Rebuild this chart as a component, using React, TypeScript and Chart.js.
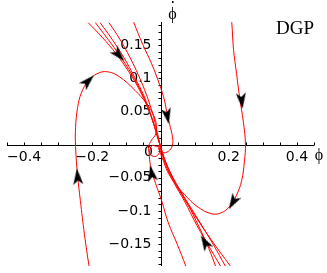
import React, { useEffect, useRef } from "react";
import { Chart, registerables } from "chart.js";

Chart.register(...registerables);

// Axis ranges and tick labels
const xRange = [-0.45, 0.45];
const yRange = [-0.183, 0.185];
const xTickLabels = [-0.4, -0.2, 0.2, 0.4];
const yTickLabels = [0.15, 0.1, 0.05, -0.05, -0.1, -0.15];
const xMinorStep = 0.05;
const yMinorStep = 0.01;
const xAxisTitle = "ϕ";
const yAxisTitle = "ϕ";
const modelLabel = "DGP";

// Trajectories (phi, phi-dot)
const curveA_x = [0.207, 0.209, 0.214, 0.223, 0.232, 0.243, 0.249, 0.246, 0.238, 0.223, 0.203, 0.177, 0.148, 0.107, 0.070, 0.041, 0.020, 0.009, 0.000, -0.003, 0.000];
const curveA_y = [0.190, 0.184, 0.144, 0.107, 0.071, 0.034, 0.001, -0.025, -0.054, -0.076, -0.093, -0.103, -0.104, -0.093, -0.075, -0.057, -0.040, -0.025, -0.013, -0.004, 0.000];

const curveB_x = [-0.205, -0.209, -0.223, -0.235, -0.243, -0.249, -0.249, -0.243, -0.232, -0.212, -0.186, -0.157, -0.122, -0.075, -0.041, -0.020, -0.012, -0.014, -0.026, -0.035, -0.032, -0.017, -0.003, 0.000];
const curveB_y = [-0.190, -0.184, -0.135, -0.084, -0.047, -0.003, 0.026, 0.056, 0.078, 0.096, 0.107, 0.110, 0.103, 0.082, 0.062, 0.044, 0.029, 0.016, 0.007, -0.003, -0.013, -0.018, -0.012, -0.003];

const curveC_x = [-0.082, -0.078, -0.052, -0.026, -0.003, 0.012, 0.020, 0.029, 0.035, 0.035, 0.023, 0.006, -0.006, -0.003];
const curveC_y = [0.190, 0.184, 0.151, 0.122, 0.091, 0.066, 0.044, 0.026, 0.012, -0.001, -0.010, -0.012, -0.006, 0.000];

const curveD1_x = [-0.212, -0.171, -0.130, -0.093, -0.061, -0.038, -0.020, -0.009, 0.000, 0.009, 0.026, 0.055, 0.096, 0.148, 0.206];
const curveD1_y = [0.184, 0.162, 0.137, 0.110, 0.082, 0.056, 0.031, 0.012, -0.003, -0.018, -0.041, -0.069, -0.103, -0.143, -0.184];

const curveD2_x = [-0.191, -0.154, -0.119, -0.084, -0.055, -0.032, -0.017, -0.006, 0.003, 0.014, 0.038, 0.072, 0.113, 0.154, 0.191];
const curveD2_y = [0.184, 0.159, 0.134, 0.106, 0.078, 0.050, 0.026, 0.007, -0.007, -0.025, -0.051, -0.081, -0.115, -0.150, -0.184];

const curveD3_x = [-0.177, -0.142, -0.107, -0.075, -0.049, -0.029, -0.014, -0.003, 0.006, 0.020, 0.043, 0.078, 0.113, 0.142, 0.162];
const curveD3_y = [0.184, 0.159, 0.131, 0.101, 0.074, 0.046, 0.022, 0.003, -0.013, -0.032, -0.057, -0.088, -0.124, -0.157, -0.184];

const curveD4_x = [-0.151, -0.119, -0.090, -0.064, -0.041, -0.023, -0.012, -0.003, 0.003, 0.014, 0.038, 0.070, 0.107, 0.145, 0.177];
const curveD4_y = [0.184, 0.159, 0.132, 0.104, 0.075, 0.047, 0.024, 0.004, -0.010, -0.029, -0.056, -0.085, -0.122, -0.156, -0.184];

const curveE_x = [0.075, 0.049, 0.023, 0.003, -0.014, -0.026, -0.032, -0.032, -0.023, -0.012, -0.003];
const curveE_y = [-0.184, -0.150, -0.118, -0.084, -0.059, -0.040, -0.022, -0.009, -0.001, -0.003, -0.001];

// Direction arrows: position and heading (degrees, clockwise from up)
const arrowX = [0.238, 0.212, 0.020, -0.122, -0.212, -0.243, -0.026, 0.130];
const arrowY = [0.066, -0.087, 0.043, 0.135, 0.096, -0.048, -0.043, -0.147];
const arrowAngle = [174, 210, 169, 138, 45, 355, 350, 330];

const curves = [
  [curveA_x, curveA_y],
  [curveB_x, curveB_y],
  [curveC_x, curveC_y],
  [curveD1_x, curveD1_y],
  [curveD2_x, curveD2_y],
  [curveD3_x, curveD3_y],
  [curveD4_x, curveD4_y],
  [curveE_x, curveE_y],
];

const zip = (xs: number[], ys: number[]) => xs.map((x, i) => ({ x, y: ys[i] }));

function makeArrowImage(): HTMLCanvasElement {
  const c = document.createElement("canvas");
  c.width = 10;
  c.height = 16;
  const g = c.getContext("2d")!;
  g.fillStyle = "#000";
  g.beginPath();
  g.moveTo(5, 0);
  g.lineTo(10, 16);
  g.lineTo(5, 12);
  g.lineTo(0, 16);
  g.closePath();
  g.fill();
  return c;
}

const fmt = (v: number) => (v < 0 ? "\u2212" + String(-v) : String(v));

const axesPlugin = {
  id: "centerAxes",
  beforeDatasetsDraw(chart: any) {
    const { ctx, chartArea: a, scales } = chart;
    const xs = scales.x;
    const ys = scales.y;
    const x0 = Math.round(xs.getPixelForValue(0)) + 0.5;
    const y0 = Math.round(ys.getPixelForValue(0)) + 0.5;
    ctx.save();
    ctx.strokeStyle = "#000";
    ctx.lineWidth = 1;
    ctx.beginPath();
    ctx.moveTo(a.left, y0);
    ctx.lineTo(a.right, y0);
    ctx.moveTo(x0, a.top);
    ctx.lineTo(x0, a.bottom);
    // x ticks (upward)
    for (let i = Math.ceil(xRange[0] / xMinorStep); i <= Math.floor(xRange[1] / xMinorStep); i++) {
      if (i === 0) continue;
      const px = Math.round(xs.getPixelForValue(i * xMinorStep)) + 0.5;
      ctx.moveTo(px, y0);
      ctx.lineTo(px, y0 - 3);
    }
    // y ticks (leftward)
    for (let i = Math.ceil(yRange[0] / yMinorStep); i <= Math.floor(yRange[1] / yMinorStep); i++) {
      if (i === 0) continue;
      const py = Math.round(ys.getPixelForValue(i * yMinorStep)) + 0.5;
      ctx.moveTo(x0, py);
      ctx.lineTo(x0 - 3, py);
    }
    ctx.stroke();

    ctx.fillStyle = "#000";
    ctx.font = '14px "DejaVu Sans"';
    ctx.textAlign = "center";
    ctx.textBaseline = "middle";
    xTickLabels.forEach((v) => {
      ctx.fillText(fmt(v), xs.getPixelForValue(v), y0 + 12);
    });
    ctx.textAlign = "right";
    yTickLabels.forEach((v) => {
      ctx.fillText(fmt(v), x0 - 10, ys.getPixelForValue(v));
    });
    ctx.textAlign = "center";
    ctx.fillText("0", x0 - 13, y0 + 7);

    ctx.font = '16px "Liberation Serif"';
    ctx.fillText(yAxisTitle, x0 + 11, 15);
    ctx.fillRect(Math.round(x0 + 10), 1, 1.5, 2);
    ctx.fillText(xAxisTitle, a.right + 5, y0 + 10);

    ctx.font = '19px "Liberation Serif"';
    ctx.fillText(modelLabel, 295, 29);
    ctx.restore();
  },
};

export default function App() {
  const ref = useRef<HTMLCanvasElement | null>(null);
  useEffect(() => {
    if (!ref.current) return;
    const arrowImg = makeArrowImage();
    const datasets: any[] = [
      {
        data: zip(arrowX, arrowY),
        showLine: false,
        pointStyle: arrowImg,
        pointRotation: arrowAngle,
        pointRadius: 6,
        backgroundColor: "#000",
        borderColor: "#000",
      },
      ...curves.map(([xs, ys]) => ({
        data: zip(xs, ys),
        showLine: true,
        pointRadius: 0,
        borderColor: "rgb(255,0,0)",
        borderWidth: 1,
        tension: 0.4,
        fill: false,
      })),
    ];
    const chart = new Chart(ref.current, {
      type: "scatter",
      data: { datasets },
      options: {
        animation: false,
        responsive: false,
        devicePixelRatio: 1,
        layout: { padding: { left: 4, right: 13, top: 22, bottom: 1 } },
        plugins: { legend: { display: false }, tooltip: { enabled: false } },
        scales: {
          x: { type: "linear", min: xRange[0], max: xRange[1], display: false },
          y: { type: "linear", min: yRange[0], max: yRange[1], display: false },
        },
      },
      plugins: [axesPlugin],
    });
    return () => chart.destroy();
  }, []);
  return (
    <div style={{ position: "fixed", left: 0, top: 0, width: 327, height: 273, background: "#fff" }}>
      <canvas ref={ref} width={327} height={273} style={{ display: "block" }} />
    </div>
  );
}
